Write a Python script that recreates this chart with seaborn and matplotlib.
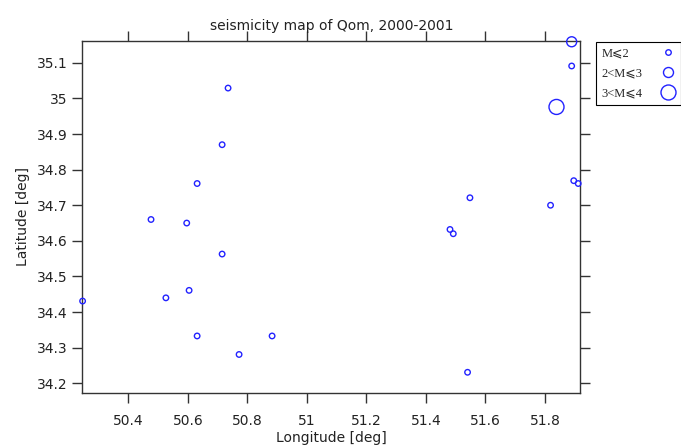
import matplotlib
matplotlib.use("Agg")
import matplotlib.pyplot as plt
from matplotlib.lines import Line2D
import seaborn as sns
import pandas as pd

# Data
longitude = [51.890, 51.890, 51.839, 50.735, 50.715, 50.631, 50.476, 50.596,
             50.715, 50.526, 50.604, 50.246, 50.631, 50.883, 50.772, 51.540,
             51.548, 51.819, 51.481, 51.492, 51.897, 51.912]
latitude = [35.159, 35.091, 34.976, 35.029, 34.870, 34.761, 34.660, 34.650,
            34.563, 34.440, 34.461, 34.431, 34.333, 34.333, 34.281, 34.231,
            34.721, 34.700, 34.632, 34.620, 34.769, 34.761]
mag_class = ["2<M⩽3", "M⩽2", "3<M⩽4", "M⩽2", "M⩽2", "M⩽2", "M⩽2", "M⩽2",
             "M⩽2", "M⩽2", "M⩽2", "M⩽2", "M⩽2", "M⩽2", "M⩽2", "M⩽2",
             "M⩽2", "M⩽2", "M⩽2", "M⩽2", "M⩽2", "M⩽2"]
class_order = ["M⩽2", "2<M⩽3", "3<M⩽4"]
x_ticks = [50.4, 50.6, 50.8, 51.0, 51.2, 51.4, 51.6, 51.8]
x_labels = ["50.4", "50.6", "50.8", "51", "51.2", "51.4", "51.6", "51.8"]
y_ticks = [34.2, 34.3, 34.4, 34.5, 34.6, 34.7, 34.8, 34.9, 35.0, 35.1]
y_labels = ["34.2", "34.3", "34.4", "34.5", "34.6", "34.7", "34.8", "34.9", "35", "35.1"]

df = pd.DataFrame({"lon": longitude, "lat": latitude, "cls": mag_class})

sns.set_style("white")
plt.rcParams["font.family"] = ["DejaVu Sans"]

W, H = 681, 445
fig = plt.figure(figsize=(W / 100, H / 100), dpi=100)
ax = fig.add_axes([82.3 / W, 1 - 393.3 / H, (580.3 - 82.3) / W, (393.3 - 40.7) / H])

marker_px = {"M⩽2": 5.5, "2<M⩽3": 10.0, "3<M⩽4": 15.0}
sizes = {k: (v * 0.72) ** 2 for k, v in marker_px.items()}
edge = "#2222ff"

sns.scatterplot(data=df, x="lon", y="lat", size="cls", sizes=sizes,
                size_order=class_order, facecolors="none", edgecolor=edge,
                linewidth=1.0, legend=False, ax=ax, clip_on=False, zorder=5)

ax.set_xlim(50.245, 51.919)
ax.set_ylim(34.172, 35.162)
ax.set_xticks(x_ticks)
ax.set_xticklabels(x_labels)
ax.set_yticks(y_ticks)
ax.set_yticklabels(y_labels)

for s in ax.spines.values():
    s.set_color("#333333")
    s.set_linewidth(1.0)
ax.tick_params(axis="both", which="major", direction="out", length=7,
               width=1.0, color="#333333", labelsize=10,
               top=True, right=True, bottom=True, left=True,
               labeltop=False, labelright=False)
ax.tick_params(axis="x", pad=8)
ax.tick_params(axis="y", pad=3.5)

ax.set_xlabel("Longitude [deg]", fontsize=10, labelpad=2, color="#222222")
ax.set_ylabel("Latitude [deg]", fontsize=10, labelpad=5, color="#222222")
ax.set_title("seismicity map of Qom, 2000-2001", fontsize=10, pad=7.5, color="#222222")
for lab in ax.get_xticklabels() + ax.get_yticklabels():
    lab.set_color("#222222")

handles = [Line2D([], [], linestyle="none", marker="o", markerfacecolor="none",
                  markeredgecolor=edge, markeredgewidth=1.0,
                  markersize=marker_px[c] * 0.72) for c in class_order]
fs = 9
leg = fig.legend(handles, class_order, loc="upper left",
                 bbox_to_anchor=(596 / W, 1 - 41.7 / H), markerfirst=False,
                 frameon=True, fancybox=False, framealpha=1, edgecolor="black",
                 borderpad=0.45, labelspacing=0.65, handlelength=1.2,
                 handletextpad=1.45, borderaxespad=0,
                 prop={"family": ["Liberation Serif", "DejaVu Sans"], "size": fs})
leg.get_frame().set_linewidth(0.8)

# left-align the label texts while keeping the markers in one column
fig.canvas.draw()
renderer = fig.canvas.get_renderer()
widths = [t.get_window_extent(renderer).width for t in leg.get_texts()]
maxw = max(widths)
rows = [r for col in leg._legend_handle_box.get_children() for r in col.get_children()]
for row, w in zip(rows, widths):
    row.sep = row.sep + (maxw - w) * 72 / fig.dpi

fig.savefig("out.png", dpi=100)
